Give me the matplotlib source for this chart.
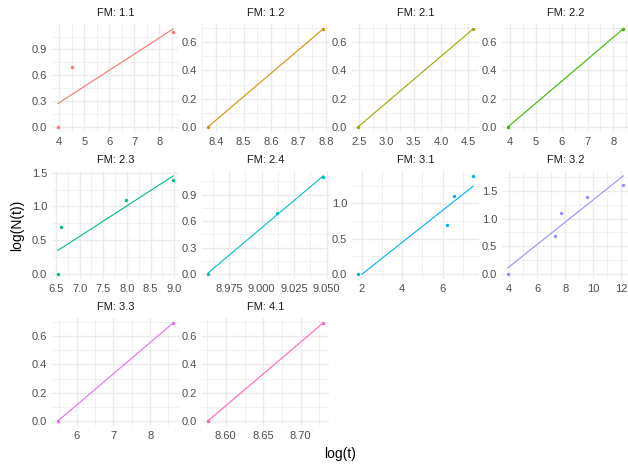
import numpy as np
import matplotlib.pyplot as plt

plt.rcParams['font.family'] = ['Liberation Sans', 'DejaVu Sans']

facets = ['1.1', '1.2', '2.1', '2.2', '2.3', '2.4', '3.1', '3.2', '3.3', '4.1']
colors = ['#F8766D', '#D89000', '#A3A500', '#39B600', '#00BF7D',
          '#00BFC4', '#00B0F6', '#9590FF', '#E76BF3', '#FF62BC']

# log(t)
log_t = [
    [3.94, 4.52, 8.56],
    [8.37, 8.79],
    [2.48, 4.59],
    [3.92, 8.38],
    [6.54, 6.60, 7.98, 8.98],
    [8.9587, 9.0117, 9.0474],
    [1.79, 6.23, 6.59, 7.52],
    [3.91, 7.27, 7.67, 9.56, 12.14],
    [5.48, 8.63],
    [8.576, 8.730],
]
# log(N(t)) for each facet
log_n = [
    [0.0, 0.693, 1.099],
    [0.0, 0.693],
    [0.0, 0.693],
    [0.0, 0.693],
    [0.0, 0.693, 1.099, 1.386],
    [0.0, 0.693, 1.099],
    [0.0, 0.693, 1.099, 1.386],
    [0.0, 0.693, 1.099, 1.386, 1.609],
    [0.0, 0.693],
    [0.0, 0.693],
]

# axis breaks per facet
x_ticks = [
    [4, 5, 6, 7, 8],
    [8.4, 8.5, 8.6, 8.7, 8.8],
    [2.5, 3.0, 3.5, 4.0, 4.5],
    [4, 5, 6, 7, 8],
    [6.5, 7.0, 7.5, 8.0, 8.5, 9.0],
    [8.975, 9.000, 9.025, 9.050],
    [2, 4, 6],
    [4, 6, 8, 10, 12],
    [6, 7, 8],
    [8.60, 8.65, 8.70],
]
y_ticks = [
    [0, 0.3, 0.6, 0.9],
    [0, 0.2, 0.4, 0.6],
    [0, 0.2, 0.4, 0.6],
    [0, 0.2, 0.4, 0.6],
    [0, 0.5, 1.0, 1.5],
    [0, 0.3, 0.6, 0.9],
    [0, 0.5, 1.0],
    [0, 0.5, 1.0, 1.5],
    [0, 0.2, 0.4, 0.6],
    [0, 0.2, 0.4, 0.6],
]


def labels_for(ticks):
    dec = 0
    for t in ticks:
        s = f'{t:g}'
        if '.' in s:
            dec = max(dec, len(s.split('.')[1]))
    return [f'{t:.{dec}f}' for t in ticks]


def minors(ticks, lo, hi):
    step = ticks[1] - ticks[0]
    m = [ticks[0] - step / 2] + [(a + b) / 2 for a, b in zip(ticks[:-1], ticks[1:])] + [ticks[-1] + step / 2]
    return [v for v in m if lo <= v <= hi]


W, H = 628, 465
fig = plt.figure(figsize=(W / 100, H / 100), dpi=100)

for i in range(len(facets)):
    r, c = divmod(i, 4)
    left = 52 + 150 * c
    top = 24 + 147 * r
    ax = fig.add_axes([left / W, 1 - (top + 108) / H, 127 / W, 108 / H])
    col = colors[i]
    x = np.array(log_t[i])
    y = np.array(log_n[i])

    # linear fit, dropped where it goes below the y limit of 0
    slope, icpt = np.polyfit(x, y, 1)
    x0 = x.min()
    if slope * x0 + icpt < 0:
        x0 = -icpt / slope
    xs = np.linspace(x0, x.max(), 100)
    ys = slope * xs + icpt
    ax.plot(xs, ys, color=col, lw=0.8, zorder=2)
    ax.scatter(x, y, s=6, color=col, lw=0, zorder=3, clip_on=False)

    xr = x.max() - x.min()
    xlo, xhi = x.min() - 0.05 * xr, x.max() + 0.05 * xr
    ytop = max(y.max(), ys.max())
    ylo, yhi = -0.05 * ytop, ytop * 1.05
    ax.set_xlim(xlo, xhi)
    ax.set_ylim(ylo, yhi)

    ax.set_xticks(x_ticks[i])
    ax.set_xticklabels(labels_for(x_ticks[i]))
    ax.set_yticks(y_ticks[i])
    ax.set_yticklabels(labels_for(y_ticks[i]))
    ax.set_xticks(minors(x_ticks[i], xlo, xhi), minor=True)
    ax.set_yticks(minors(y_ticks[i], ylo, yhi), minor=True)

    ax.grid(which='major', color='#EBEBEB', lw=1.0)
    ax.grid(which='minor', color='#EBEBEB', lw=0.5)
    ax.set_axisbelow(True)
    for s in ax.spines.values():
        s.set_visible(False)
    ax.tick_params(which='both', length=0, pad=3.5, labelsize=8.0, labelcolor='#4D4D4D')

    ax.annotate('FM: ' + facets[i], xy=(0.5, 1), xycoords='axes fraction',
                xytext=(0, 7.6), textcoords='offset points',
                ha='center', va='center', fontsize=8.0, color='#1A1A1A')

fig.text(340 / W, 1 - 454 / H, 'log(t)', ha='center', va='center', fontsize=10)
fig.text(17 / W, 1 - 225 / H, 'log(N(t))', ha='center', va='center',
         rotation=90, fontsize=10)

fig.savefig('out.png', dpi=100)
